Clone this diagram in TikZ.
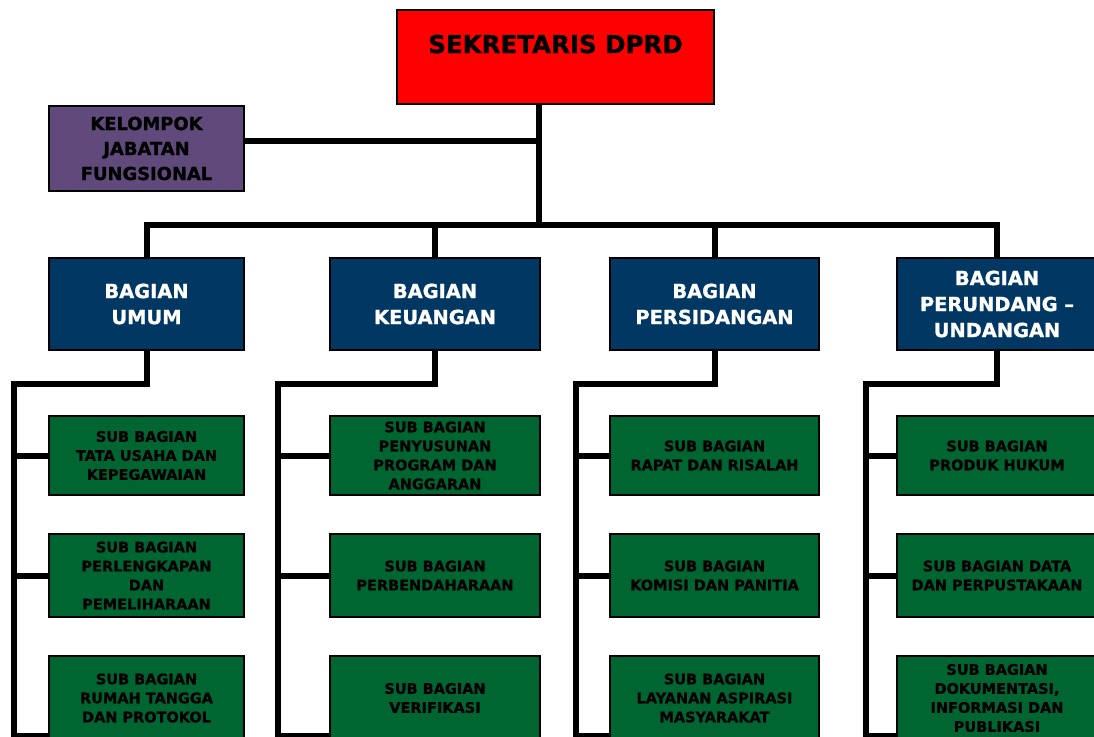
\documentclass[tikz,border=0pt]{standalone}
\usepackage{fontspec}
\setmainfont{DejaVu Sans}[BoldFeatures={FakeBold=1.3}]
\usetikzlibrary{calc}
\definecolor{merah}{HTML}{FF0000}
\definecolor{ungu}{HTML}{604A7B}
\definecolor{biru}{HTML}{003863}
\definecolor{hijau}{HTML}{006631}

\tikzset{
  kotak/.style={draw=black, line width=2.5pt, align=center, inner sep=0pt},
  sekbox/.style={kotak, fill=merah, minimum width=317pt, minimum height=94pt,
    font=\fontsize{24.5}{30}\selectfont\bfseries, text height=18pt, text depth=26pt},
  fungbox/.style={kotak, fill=ungu, minimum width=195pt, minimum height=85pt,
    font=\fontsize{17.9}{25}\selectfont\bfseries},
  bagbox/.style={kotak, fill=biru, text=white, minimum height=92pt,
    font=\fontsize{19.4}{26}\selectfont\bfseries},
  subbox/.style={kotak, fill=hijau, font=\fontsize{14.5}{19}\selectfont\bfseries},
  garis/.style={line width=6pt},
}

\begin{document}
\begin{tikzpicture}[x=1pt, y=-1pt]
  \useasboundingbox (0,0) rectangle (1094,736);
  \clip (0,0) rectangle (1094,736);

  % Pimpinan
  \node[sekbox] (sekr) at (555.5,57) {SEKRETARIS DPRD};
  \node[fungbox] (jafung) at (146.5,148.5) {KELOMPOK\\JABATAN\\FUNGSIONAL};

  % Bagian
  \node[bagbox, minimum width=195pt] (umum) at (146.5,304) {BAGIAN\\UMUM};
  \node[bagbox, minimum width=210pt] (keu) at (435,304) {BAGIAN\\KEUANGAN};
  \node[bagbox, minimum width=209pt] (sid) at (714.5,304) {BAGIAN\\PERSIDANGAN};
  \node[bagbox, minimum width=200pt] (und) at (997,304) {BAGIAN\\PERUNDANG --\\UNDANGAN};

  % Sub bagian umum
  \node[subbox, minimum width=195pt, minimum height=79pt] (umum1) at (146.5,455.5)
    {SUB BAGIAN\\TATA USAHA DAN\\KEPEGAWAIAN};
  \node[subbox, minimum width=195pt, minimum height=83pt] (umum2) at (146.5,575.5)
    {SUB BAGIAN\\PERLENGKAPAN\\DAN\\PEMELIHARAAN};
  \node[subbox, minimum width=195pt, minimum height=84pt] (umum3) at (146.5,698)
    {SUB BAGIAN\\RUMAH TANGGA\\DAN PROTOKOL};

  % Sub bagian keuangan
  \node[subbox, minimum width=210pt, minimum height=79pt] (keu1) at (435,455.5)
    {SUB BAGIAN\\PENYUSUNAN\\PROGRAM DAN\\ANGGARAN};
  \node[subbox, minimum width=210pt, minimum height=83pt] (keu2) at (435,575.5)
    {SUB BAGIAN\\PERBENDAHARAAN};
  \node[subbox, minimum width=210pt, minimum height=84pt] (keu3) at (435,698)
    {SUB BAGIAN\\VERIFIKASI};

  % Sub bagian persidangan
  \node[subbox, minimum width=209pt, minimum height=79pt] (sid1) at (714.5,455.5)
    {SUB BAGIAN\\RAPAT DAN RISALAH};
  \node[subbox, minimum width=209pt, minimum height=83pt] (sid2) at (714.5,575.5)
    {SUB BAGIAN\\KOMISI DAN PANITIA};
  \node[subbox, minimum width=209pt, minimum height=84pt] (sid3) at (714.5,698)
    {SUB BAGIAN\\LAYANAN ASPIRASI\\MASYARAKAT};

  % Sub bagian perundang-undangan
  \node[subbox, minimum width=200pt, minimum height=79pt] (und1) at (997,455.5)
    {SUB BAGIAN\\PRODUK HUKUM};
  \node[subbox, minimum width=200pt, minimum height=83pt] (und2) at (997,575.5)
    {SUB BAGIAN DATA\\DAN PERPUSTAKAAN};
  \node[subbox, minimum width=200pt, minimum height=84pt] (und3) at (997,698)
    {SUB BAGIAN\\DOKUMENTASI,\\INFORMASI DAN\\PUBLIKASI};

  % Garis komando
  \coordinate (tengah) at (539,225);
  \draw[garis] (sekr.south -| tengah) -- (tengah);
  \draw[garis] ([yshift=8pt]jafung.east) -- ([yshift=8pt]jafung.east -| tengah);
  \draw[garis] (umum.north) -- (umum.north |- tengah) -- (und.north |- tengah) -- (und.north);
  \draw[garis] (keu.north |- tengah) -- (keu.north);
  \draw[garis] (sid.north |- tengah) -- (sid.north);

  % Garis ke sub bagian
  \foreach \b/\r in {umum/14, keu/278, sid/576, und/866} {
    \coordinate (rel\b) at (\r,384);
    \coordinate (ujung\b) at ([yshift=5pt]\b3.south west);
    \draw[garis] (\b.south) |- (rel\b) -- (rel\b |- ujung\b) -- (ujung\b);
    \draw[garis] (rel\b |- \b1.west) -- (\b1.west);
    \draw[garis] (rel\b |- \b2.west) -- (\b2.west);
  }

\end{tikzpicture}
\end{document}
